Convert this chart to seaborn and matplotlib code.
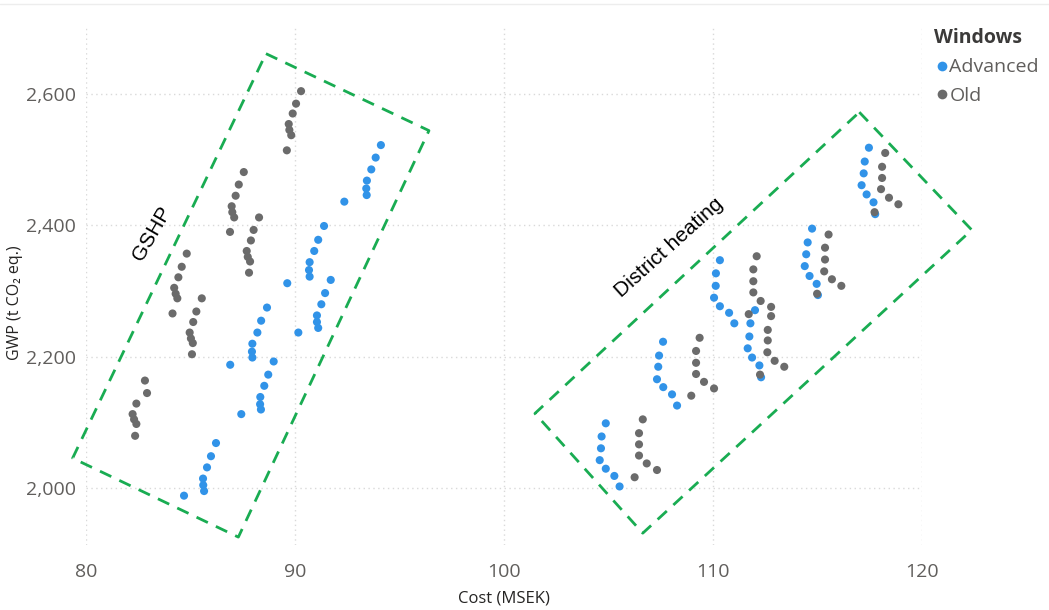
import numpy as np
import pandas as pd
import seaborn as sns
import matplotlib
matplotlib.use("Agg")
import matplotlib.pyplot as plt
from matplotlib.lines import Line2D

# ---- data: cost (MSEK) and GWP (t CO2 eq.) per design variant ----
gshp_adv_cost = [94.11, 93.86, 93.65, 93.44, 93.41, 93.43, 92.36,
                 91.39, 91.11, 90.92, 90.70, 90.67, 90.70, 89.63,
                 91.71, 91.44, 91.26, 91.05, 91.05, 91.11, 90.16,
                 88.66, 88.38, 88.20, 87.96, 87.94, 87.96, 86.90,
                 88.98, 88.72, 88.53, 88.34, 88.33, 88.37, 87.43,
                 86.22, 85.98, 85.79, 85.60, 85.61, 85.65, 84.69]
gshp_adv_gwp = [2522, 2503, 2485, 2468, 2456, 2446, 2436,
                2399, 2378, 2361, 2344, 2332, 2322, 2312,
                2317, 2297, 2280, 2263, 2253, 2244, 2237,
                2275, 2255, 2237, 2220, 2208, 2199, 2188,
                2193, 2173, 2156, 2139, 2128, 2120, 2113,
                2069, 2049, 2032, 2015, 2005, 1996, 1989]

gshp_old_cost = [90.29, 90.05, 89.89, 89.70, 89.73, 89.82, 89.61,
                 87.55, 87.31, 87.16, 86.97, 87.00, 87.09, 86.89,
                 88.28, 88.02, 87.89, 87.69, 87.74, 87.85, 87.80,
                 84.82, 84.58, 84.42, 84.22, 84.29, 84.37, 84.14,
                 85.54, 85.28, 85.13, 84.96, 85.02, 85.11, 85.07,
                 82.82, 82.92, 82.41, 82.23, 82.30, 82.41, 82.35]
gshp_old_gwp = [2604, 2585, 2570, 2554, 2545, 2537, 2514,
                2481, 2462, 2445, 2429, 2420, 2412, 2390,
                2412, 2393, 2377, 2361, 2352, 2345, 2328,
                2357, 2337, 2321, 2305, 2296, 2289, 2266,
                2289, 2269, 2253, 2237, 2228, 2221, 2204,
                2164, 2145, 2129, 2113, 2105, 2098, 2080]

dh_adv_cost = [104.87, 104.67, 104.64, 104.58, 104.87, 105.28, 105.53,
               107.61, 107.42, 107.38, 107.32, 107.62, 108.04, 108.28,
               110.33, 110.14, 110.13, 110.05, 110.33, 110.77, 111.02,
               112.01, 111.79, 111.74, 111.66, 111.87, 112.22, 112.30,
               114.74, 114.53, 114.46, 114.39, 114.62, 114.96, 115.02,
               117.46, 117.26, 117.21, 117.11, 117.35, 117.68, 117.76]
dh_adv_gwp = [2099, 2079, 2061, 2043, 2030, 2019, 2003,
              2223, 2202, 2185, 2166, 2154, 2143, 2126,
              2347, 2327, 2308, 2290, 2277, 2267, 2251,
              2271, 2251, 2231, 2213, 2199, 2187, 2169,
              2395, 2374, 2356, 2338, 2323, 2311, 2294,
              2518, 2497, 2479, 2461, 2447, 2435, 2417]

dh_old_cost = [106.64, 106.46, 106.46, 106.46, 106.83, 107.32, 106.25,
               109.36, 109.19, 109.19, 109.19, 109.57, 110.05, 108.96,
               112.09, 111.93, 111.93, 111.93, 112.28, 112.78, 111.71,
               112.78, 112.62, 112.62, 112.60, 112.95, 113.41, 112.25,
               115.53, 115.36, 115.36, 115.32, 115.69, 116.14, 114.98,
               118.24, 118.09, 118.09, 118.04, 118.42, 118.87, 117.73]
dh_old_gwp = [2105, 2084, 2067, 2050, 2038, 2028, 2017,
              2229, 2209, 2191, 2174, 2162, 2152, 2141,
              2353, 2333, 2315, 2298, 2285, 2276, 2265,
              2262, 2241, 2225, 2207, 2194, 2185, 2173,
              2386, 2366, 2348, 2330, 2318, 2308, 2296,
              2510, 2489, 2472, 2455, 2442, 2432, 2420]

window_types = ["Advanced", "Old"]
x_ticks = [80, 90, 100, 110, 120]
y_ticks = [2000, 2200, 2400, 2600]

# outline corners (cost, GWP) of the two heating-system groups
gshp_box_cost = [88.61, 96.41, 87.29, 79.36]
gshp_box_gwp = [2661, 2544, 1926, 2046]
dh_box_cost = [117.0, 122.38, 106.64, 101.48]
dh_box_gwp = [2572, 2393, 1932, 2114]

# ---- assemble tidy frame ----
frames = []
for cost, gwp, win in [(gshp_adv_cost, gshp_adv_gwp, "Advanced"),
                       (dh_adv_cost, dh_adv_gwp, "Advanced"),
                       (gshp_old_cost, gshp_old_gwp, "Old"),
                       (dh_old_cost, dh_old_gwp, "Old")]:
    frames.append(pd.DataFrame({"Cost": cost, "GWP": gwp, "Windows": win}))
df = pd.concat(frames, ignore_index=True)

sns.set_theme(style="white")
plt.rcParams["font.family"] = ["Open Sans", "DejaVu Sans"]

W, H = 1049, 610
fig = plt.figure(figsize=(W / 100, H / 100), dpi=100)
ax_w, ax_h = 922 - 86, 545 - 28
ax = fig.add_axes([86 / W, 65 / H, ax_w / W, ax_h / H])

palette = {"Advanced": "#3193E8", "Old": "#6B6B6B"}
sns.scatterplot(data=df, x="Cost", y="GWP", hue="Windows",
                hue_order=window_types, palette=palette, s=34,
                linewidth=0, ax=ax, legend=False, zorder=3)

ax.set_xlim(80, 120)
ax.set_ylim(1914, 2700)
ax.set_xticks(x_ticks)
ax.set_yticks(y_ticks)
ax.set_yticklabels([f"{v:,}" for v in y_ticks])
ax.tick_params(axis="both", length=0, labelsize=14, labelcolor="#605E5C")
ax.tick_params(axis="x", pad=13)
ax.tick_params(axis="y", pad=7)
for sp in ax.spines.values():
    sp.set_visible(False)
ax.grid(True, linestyle=(0, (1, 2.5)), color="#D9D9D9", linewidth=1)
ax.set_axisbelow(True)

ax.set_xlabel("Cost (MSEK)", fontsize=12, color="#252423", labelpad=7)
ax.set_ylabel("GWP (t CO₂ eq.)", fontsize=11.5, color="#252423")
ax.yaxis.set_label_coords(-63 / ax_w, (545 - 303) / ax_h)

# dashed group outlines
green = "#19AC52"
for bx, by in [(gshp_box_cost, gshp_box_gwp), (dh_box_cost, dh_box_gwp)]:
    ax.plot(bx + bx[:1], by + by[:1], color=green, linewidth=2,
            linestyle=(0, (4.5, 3.2)), clip_on=False, zorder=4)

ax.text(83.15, 2388, "GSHP", rotation=60, fontsize=15, ha="center",
        va="center", color="black", family=["Liberation Sans", "DejaVu Sans"],
        rotation_mode="anchor")
ax.text(107.9, 2366, "District heating", rotation=42, fontsize=15,
        ha="center", va="center", color="black",
        family=["Liberation Sans", "DejaVu Sans"], rotation_mode="anchor")

# legend
handles = [Line2D([0], [0], marker="o", linestyle="", markersize=7,
                  markerfacecolor=palette[w], markeredgewidth=0)
           for w in window_types]
leg = fig.legend(handles, window_types, title="Windows", loc="upper left",
                 bbox_to_anchor=(926 / W, 1 - 20 / H), frameon=False,
                 fontsize=14, title_fontsize=14, handletextpad=0.0,
                 handlelength=0.8, labelspacing=0.55, borderaxespad=0,
                 alignment="left")
leg.get_title().set_fontweight("bold")
leg.get_title().set_color("#3B3A39")
for t in leg.get_texts():
    t.set_color("#605E5C")

# thin header rule
fig.add_artist(Line2D([0, 1], [1 - 4 / H, 1 - 4 / H], color="#EDEDED",
                      linewidth=1, transform=fig.transFigure))

fig.savefig("out.png", dpi=100)
